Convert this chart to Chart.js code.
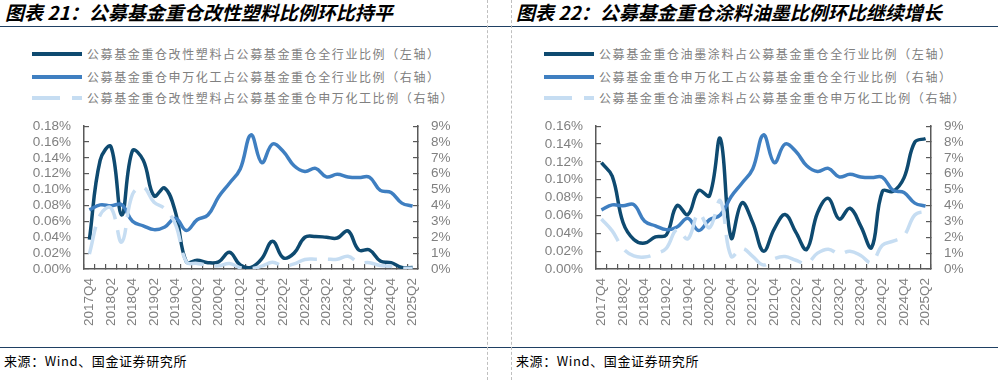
<!DOCTYPE html>
<html><head><meta charset="utf-8">
<script src="https://cdn.jsdelivr.net/npm/chart.js@4.4.1/dist/chart.umd.min.js"></script>
<style>
body{margin:0;background:#fff;width:998px;height:380px;position:relative;overflow:hidden;font-family:"Noto Sans CJK SC",sans-serif;}
.title{position:absolute;top:0;font-size:19px;font-weight:bold;font-style:italic;color:#000;white-space:nowrap;line-height:24px;}
.hline{position:absolute;left:0;width:998px;height:0;border-top:1.5px solid #1f4063;}
.vline{position:absolute;top:0;height:380px;width:0;border-left:1px dashed #bfbfbf;}
.legend{position:absolute;top:0;font-size:12px;color:#808080;letter-spacing:1.6px;}
.item{position:absolute;left:0;height:20px;white-space:nowrap;}
.swatch{position:absolute;left:0;top:8px;width:50px;height:4px;}
.ltext{position:absolute;left:55px;top:0;line-height:20px;}
.src{position:absolute;top:352px;font-size:13px;color:#000;letter-spacing:0.6px;line-height:18px;white-space:nowrap;}
canvas{position:absolute;}
</style></head>
<body>
<div class="title" style="left:5px">图表 21：公募基金重仓改性塑料比例环比持平</div>
<div class="title" style="left:516px">图表 22：公募基金重仓涂料油墨比例环比继续增长</div>
<div class="hline" style="top:26px"></div>
<div class="hline" style="top:347px"></div>
<div class="vline" style="left:487px"></div>
<div class="vline" style="left:511px"></div>
<div class="legend" id="leg1" style="left:32px"></div>
<div class="legend" id="leg2" style="left:544px"></div>
<canvas id="c1" width="487" height="245" style="left:0;top:100px"></canvas>
<canvas id="c2" width="486" height="245" style="left:512px;top:100px"></canvas>
<div class="src" style="left:4px">来源：Wind、国金证券研究所</div>
<div class="src" style="left:516px">来源：Wind、国金证券研究所</div>
<script>
const quarters = ["2017Q4","2018Q1","2018Q2","2018Q3","2018Q4","2019Q1","2019Q2","2019Q3","2019Q4","2020Q1","2020Q2","2020Q3","2020Q4","2021Q1","2021Q2","2021Q3","2021Q4","2022Q1","2022Q2","2022Q3","2022Q4","2023Q1","2023Q2","2023Q3","2023Q4","2024Q1","2024Q2","2024Q3","2024Q4","2025Q1","2025Q2"];

// Chart 1 (left axis, %)
const plasticShareAll = [0.037,0.137,0.154,0.068,0.149,0.137,0.092,0.102,0.071,0.009,0.011,0.008,0.009,0.021,0.005,0.002,0.013,0.035,0.014,0.020,0.040,0.041,0.040,0.039,0.048,0.024,0.024,0.010,0.008,0.002,0.002];
// Shenwan chemicals share of all (right axis, %)
const chemShareAll = [3.72,4.04,3.98,4.05,3.00,2.72,2.48,2.65,3.20,2.42,3.10,3.40,4.55,5.40,6.30,8.45,6.70,7.87,7.40,6.50,6.14,6.34,5.80,5.96,5.80,5.76,5.78,4.95,4.82,4.15,3.96];
// plastics share of chemicals (right axis, %)
const plasticShareChem = [0.95,3.40,3.85,1.70,4.70,5.15,4.20,3.80,2.80,0.45,0.35,0.25,0.20,0.35,0.08,0.02,0.18,0.42,0.20,0.32,0.60,0.62,0.62,0.62,0.80,0.42,0.40,0.22,0.17,0.05,0.05];

// Chart 2
const inkShareAll = [0.119,0.104,0.052,0.033,0.029,0.036,0.038,0.071,0.061,0.088,0.082,0.146,0.035,0.074,0.052,0.020,0.045,0.061,0.041,0.022,0.063,0.079,0.056,0.068,0.048,0.024,0.087,0.087,0.102,0.142,0.146];
const inkShareChem = [3.15,2.40,1.30,0.82,0.75,0.95,1.30,2.50,1.90,3.50,2.60,4.30,0.80,1.30,0.80,0.25,0.65,0.78,0.55,0.35,1.00,1.25,0.95,1.12,0.85,0.40,1.50,1.75,2.10,3.40,3.65];

const names1 = ["公募基金重仓改性塑料占公募基金重仓全行业比例（左轴）","公募基金重仓申万化工占公募基金重仓全行业比例（右轴）","公募基金重仓改性塑料占公募基金重仓申万化工比例（右轴）"];
const names2 = ["公募基金重仓油墨涂料占公募基金重仓全行业比例（左轴）","公募基金重仓申万化工占公募基金重仓全行业比例（右轴）","公募基金重仓油墨涂料占公募基金重仓申万化工比例（右轴）"];

const C_DARK = "#0e4a70", C_MID = "#3f7fc1", C_LIGHT = "#c6ddf2";
const AX = "#595959", TXT = "#808080";
const TICKFONT = {family:"'Liberation Sans', Arial, sans-serif", size:13.5};

function buildLegend(id, names){
  const el = document.getElementById(id);
  const tops = [44, 67, 88];
  const bgs = [C_DARK, C_MID, `linear-gradient(to right, ${C_LIGHT} 0 28px, transparent 28px 40px, ${C_LIGHT} 40px 50px)`];
  names.forEach((n,i)=>{
    const it = document.createElement('div'); it.className='item'; it.style.top=tops[i]+'px';
    const sw = document.createElement('div'); sw.className='swatch'; sw.style.background=bgs[i];
    const tx = document.createElement('div'); tx.className='ltext'; tx.textContent=n;
    it.appendChild(sw); it.appendChild(tx); el.appendChild(it);
  });
}
buildLegend('leg1', names1);
buildLegend('leg2', names2);

function makeChart(id, names, leftData, midData, lightData, leftMax, canvasW, rightW){
  new Chart(document.getElementById(id), {
    type:'line',
    data:{labels:quarters, datasets:[
      {label:names[0], data:leftData, yAxisID:'yL', borderColor:C_DARK, borderWidth:3.5, tension:0.4, pointRadius:0, fill:false, order:3},
      {label:names[1], data:midData, yAxisID:'yR', borderColor:C_MID, borderWidth:3.5, tension:0.4, pointRadius:0, fill:false, order:2},
      {label:names[2], data:lightData, yAxisID:'yR', borderColor:C_LIGHT, borderWidth:3.5, borderDash:[28,11], tension:0.4, pointRadius:0, fill:false, order:1}
    ]},
    options:{
      responsive:false, animation:false,
      layout:{padding:{top:18,left:0,right:0,bottom:0}},
      plugins:{legend:{display:false}, tooltip:{enabled:false}},
      scales:{
        x:{offset:true,
           grid:{offset:true, drawOnChartArea:false, drawTicks:true, tickLength:-5, color:AX, tickColor:AX, lineWidth:1.2, tickWidth:1.2},
           border:{color:AX, width:1.5},
           ticks:{autoSkip:false, maxRotation:90, minRotation:90, padding:14, color:TXT, font:TICKFONT,
                  callback:(v,i)=> i%2===0 ? quarters[i] : ''},
           afterFit:s=>{s.height=76;}},
        yL:{position:'left', min:0, max:leftMax,
            grid:{drawOnChartArea:false, drawTicks:true, tickLength:-5, color:AX, tickColor:AX, lineWidth:1.2},
            border:{color:AX, width:1.5},
            ticks:{autoSkip:false, stepSize:0.02, padding:18, color:TXT, font:TICKFONT, callback:v=>v.toFixed(2)+'%'},
            afterFit:s=>{s.width=84;}},
        yR:{position:'right', min:0, max:9,
            grid:{drawOnChartArea:false, drawTicks:true, tickLength:-5, color:AX, tickColor:AX, lineWidth:1.2},
            border:{color:AX, width:1.5},
            ticks:{autoSkip:false, stepSize:1, padding:18, color:TXT, font:TICKFONT, callback:v=>Math.round(v)+'%'},
            afterFit:s=>{s.width=rightW;}}
      }
    }
  });
}
makeChart('c1', names1, plasticShareAll, chemShareAll, plasticShareChem, 0.18, 487, 69);
makeChart('c2', names2, inkShareAll, chemShareAll, inkShareChem, 0.16, 486, 67);
</script>
</body></html>
